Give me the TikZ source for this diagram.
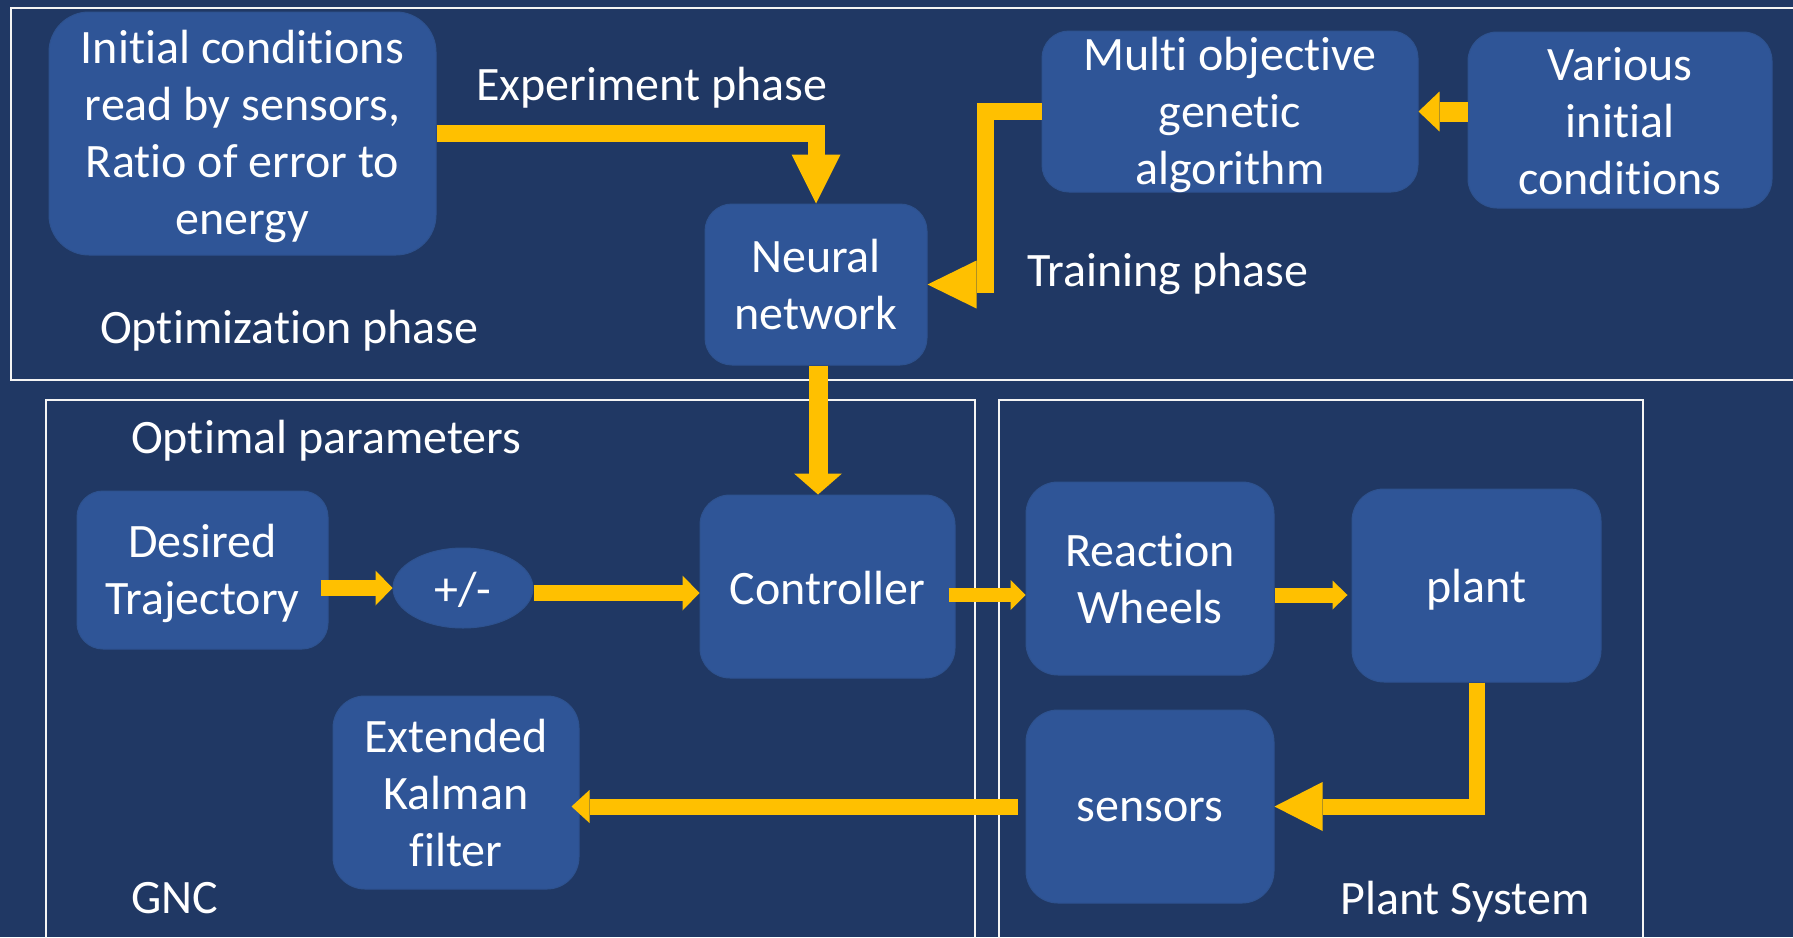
\documentclass[tikz,border=0pt]{standalone}
\usepackage{fontspec}
\setmainfont{Carlito}[Ligatures=CommonOff]
\usetikzlibrary{arrows.meta,calc,shapes.geometric}
\definecolor{bgblue}{HTML}{203864}
\definecolor{boxblue}{HTML}{2F5597}
\definecolor{boxedge}{HTML}{2E528F}
\definecolor{arrowgold}{HTML}{FFC000}
\definecolor{framewhite}{HTML}{F4F4F4}
\begin{document}
\begin{tikzpicture}[x=1pt,y=-1pt,
  box/.style={rectangle, fill=boxblue, draw=boxedge, line width=1pt, inner sep=0pt},
  boxtext/.style={text=white, align=center, inner sep=0pt, font=\fontsize{48}{57}\selectfont},
  lbl/.style={anchor=base west, text=white, inner sep=0pt, font=\fontsize{48}{57}\selectfont},
  frame/.style={draw=framewhite, line width=2.6pt},
  conn/.style={draw=arrowgold, line width=#1, line join=miter},
]
% background and bounding box
\fill[bgblue] (0,0) rectangle (1793,937);
\useasboundingbox (0,0) rectangle (1793,937);

% frames
\draw[frame] (11,8) rectangle (1810,380);
\draw[frame] (46,400) rectangle (975,960);
\draw[frame] (999,400) rectangle (1643,960);

% boxes (top region)
\node[box, rounded corners=40pt, minimum width=387pt, minimum height=243pt] (init) at (242.5,133.5) {};
\node[box, rounded corners=27pt, minimum width=222pt, minimum height=161pt] (nn) at (816,284.5) {};
\node[box, rounded corners=27pt, minimum width=376pt, minimum height=161pt] (multi) at (1230,111.5) {};
\node[box, rounded corners=29pt, minimum width=304pt, minimum height=176pt] (various) at (1620,120) {};
% boxes (GNC)
\node[box, rounded corners=26pt, minimum width=251pt, minimum height=158pt] (des) at (202.5,570) {};
\node[box, ellipse, minimum width=140pt, minimum height=80pt] (pm) at (463,588) {};
\node[box, rounded corners=30pt, minimum width=255pt, minimum height=183pt] (ctrl) at (827.5,586.5) {};
\node[box, rounded corners=32pt, minimum width=246pt, minimum height=193pt] (ekf) at (456,792.5) {};
% boxes (plant)
\node[box, rounded corners=32pt, minimum width=248pt, minimum height=193pt] (rw) at (1150,578.5) {};
\node[box, rounded corners=32pt, minimum width=249pt, minimum height=193pt] (pl) at (1476.5,585.5) {};
\node[box, rounded corners=32pt, minimum width=248pt, minimum height=193pt] (sen) at (1150,806.5) {};

% box texts
\node[boxtext] (initT) at ([yshift=-2.5pt]init.center) {Initial conditions\\read by sensors,\\Ratio of error to\\energy};
\node[boxtext] (nnT) at (nn.center) {Neural\\network};
\node[boxtext] (multiT) at ([yshift=-3.5pt]multi.center) {Multi objective\\genetic\\algorithm};
\node[boxtext] (variousT) at ([yshift=-1.5pt]various.center) {Various\\initial\\conditions};
\node[boxtext] (desT) at ([yshift=-3.5pt]des.center) {Desired\\Trajectory};
\node[boxtext] (pmT) at ([yshift=-2pt]pm.center) {+/-};
\node[boxtext] (ctrlT) at ([yshift=-1.5pt]ctrl.center) {Controller};
\node[boxtext] (ekfT) at (ekf.center) {Extended\\Kalman\\filter};
\node[boxtext] (rwT) at (rw.center) {Reaction\\Wheels};
\node[boxtext] (plT) at ([yshift=-4pt]pl.center) {plant};
\node[boxtext] (senT) at ([yshift=-4pt]sen.center) {sensors};

% labels
\node[lbl] (lexp) at (476,100) {Experiment phase};
\node[lbl] (lopt) at (100,343) {Optimization phase};
\node[lbl] (ltrain) at (1027,286) {Training phase};
\node[lbl] (lpar) at (131,453) {Optimal parameters};
\node[lbl] (lgnc) at (131,913) {GNC};
\node[lbl] (lplant) at (1340,914) {Plant System};

% helper coordinates
\coordinate (tb) at ($(nn.east)+(58,0)$);
\coordinate (yline) at (0,595);

% connectors
\draw[conn=17pt, -{Triangle[width=49pt,length=49pt,line width=0pt]}] (init.east) -| (nn.north);
\draw[conn=17pt, -{Triangle[width=48pt,length=49pt,line width=0pt]}] (multi.west) -| (tb) -- (nn.east);
\draw[conn=20pt, -{Triangle[width=40pt,length=21pt,line width=0pt]}] (various.west |- multi.east) -- (multi.east);
\draw[conn=19pt, -{Triangle[width=48pt,length=21pt,line width=0pt]}] ([xshift=2pt]nn.south) -- ([xshift=2pt]nn.south |- ctrl.north);
\draw[conn=16pt, -{Triangle[width=35pt,length=17pt,line width=0pt]}] ([xshift=-8pt]des.east |- pm.west) -- (pm.west);
\draw[conn=16pt, -{Triangle[width=35pt,length=17pt,line width=0pt]}] ([yshift=-5pt]pm.east) -- ([yshift=-5pt]pm.east -| ctrl.west);
\draw[conn=14pt, -{Triangle[width=30pt,length=15pt,line width=0pt]}] ([xshift=-7pt]ctrl.east |- yline) -- (rw.west |- yline);
\draw[conn=15pt, -{Triangle[width=29pt,length=15pt,line width=0pt]}] (rw.east |- yline) -- ([xshift=-4pt]pl.west |- yline);
\draw[conn=16pt, -{Triangle[width=49pt,length=48pt,line width=0pt]}] (pl.south) |- (sen.east);
\draw[conn=16pt, -{Triangle[width=33pt,length=18pt,line width=0pt]}] ([xshift=-8pt]sen.west) -- ([xshift=-8pt]sen.west -| ekf.east);
\end{tikzpicture}
\end{document}
